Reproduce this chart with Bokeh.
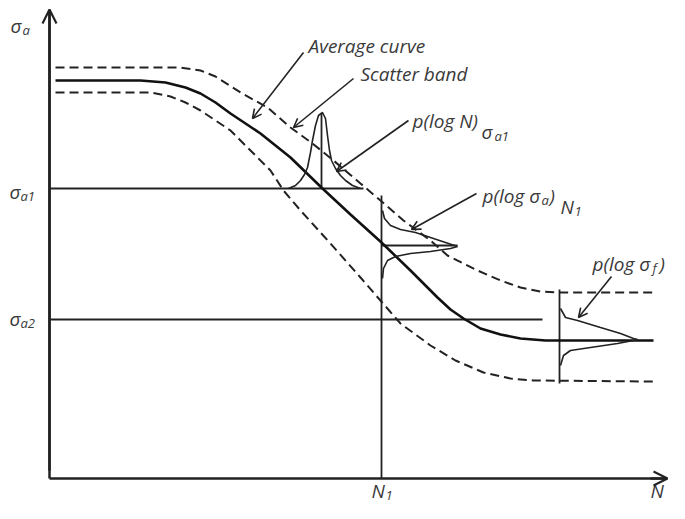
from bokeh.plotting import figure
from bokeh.models import Range1d, Arrow, OpenHead, ColumnDataSource
from bokeh.core.properties import value
from bokeh.embed import file_html
from bokeh.resources import INLINE

# ---- data (schematic coordinates) ----
avg_x = [55, 140, 165, 185, 200, 215, 230, 260, 290, 322, 350, 381, 410, 437, 450, 463, 480, 500, 520, 545, 653]
avg_y = [80, 80, 82, 87, 93, 102, 113, 133, 157, 188, 214, 242, 270, 297, 309, 318, 328, 334, 338, 340, 340]

up_x = [55, 180, 200, 215, 240, 267, 290, 312, 333, 360, 380, 403, 430, 447, 477, 500, 520, 540, 560, 652]
up_y = [67, 67, 70, 76, 92, 107, 127, 143, 160, 183, 200, 220, 240, 255, 270, 280, 287, 291, 292, 292]

lo_x = [55, 150, 170, 185, 200, 230, 250, 270, 283, 300, 330, 360, 373, 400, 430, 455, 483, 510, 533, 653]
lo_y = [92, 92, 96, 102, 110, 130, 150, 170, 190, 210, 243, 277, 292, 323, 345, 360, 372, 378, 380, 381]

pN_x = [288, 295, 300, 304, 307, 310, 312, 315, 318, 322, 325, 327, 329, 331, 335, 340, 345, 352, 360]
pN_y = [188, 185, 180, 174, 167, 152, 140, 125, 115, 112, 118, 135, 150, 160, 168, 175, 180, 185, 188]

pSa_up_x = [382, 384, 390, 400, 415, 430, 445, 457]
pSa_up_y = [210, 218, 225, 229, 232, 237, 242, 246]
pSa_lo_x = [382, 383, 387, 395, 410, 430, 450, 457]
pSa_lo_y = [278, 268, 260, 256, 253, 251, 248, 246]

pSf_up_x = [560, 565, 577, 600, 620, 633, 637]
pSf_up_y = [308, 317, 320, 327, 333, 338, 339]
pSf_lo_x = [560, 563, 570, 590, 617, 633, 637]
pSf_lo_y = [365, 355, 350, 347, 343, 340, 339]

# reference lines: (x0, y0, x1, y1)
thin_lines = [
    (49, 188, 363, 188),   # sigma_a1 level
    (49, 319, 542, 319),   # sigma_a2 level
    (381, 195, 381, 478),  # N1
    (321, 113, 321, 188),  # p(log N) axis
    (381, 245, 457, 245),  # p(log sigma_a) axis
    (559, 289, 559, 383),  # p(log sigma_f) axis
]

# leader arrows: (tail x, tail y, head x, head y)
leaders = [
    (303, 52, 252, 118),
    (353, 78, 293, 127),
    (408, 120, 336, 171),
    (476, 193, 411, 229),
    (611, 276, 578, 317),
]

# texts: (x, y, text)
big_texts = [
    (308, 45, "Average curve"),
    (360, 73, "Scatter band"),
    (412, 120, "p(log N)"),
    (482, 195, "p(log σ"),
    (549, 195, ")"),
    (592, 263, "p(log σ"),
    (659, 263, ")"),
    (481, 131, "σ"),
    (560, 206, "N"),
    (10, 25, "σ"),
    (9, 191, "σ"),
    (9, 318, "σ"),
    (371, 490, "N"),
    (650, 490, "N"),
]
small_texts = [
    (494, 135, "a1"),
    (541, 199, "a"),
    (574, 211, "1"),
    (652, 267, "f"),
    (22, 29, "a"),
    (20, 195, "a1"),
    (20, 322, "a2"),
    (385, 495, "1"),
]

AX = "#222222"
TXT = "#3a3a3a"

p = figure(width=669, height=503, output_backend="svg", toolbar_location=None,
           x_range=Range1d(0, 669), y_range=Range1d(503, 0), min_border=0)
p.axis.visible = False
p.grid.visible = False
p.outline_line_color = None
p.background_fill_color = "white"

# axes
p.line([49, 49], [478, 12], line_color=AX, line_width=2.5)
p.line([49, 666], [478, 478], line_color=AX, line_width=2.5)
p.add_layout(Arrow(end=OpenHead(size=14, line_width=2.2, line_color=AX), x_start=49, y_start=470,
                   x_end=49, y_end=9, line_color=AX, line_width=2.5))
p.add_layout(Arrow(end=OpenHead(size=14, line_width=2.2, line_color=AX), x_start=650, y_start=478,
                   x_end=667, y_end=478, line_color=AX, line_width=2.5))

# reference lines
for x0, y0, x1, y1 in thin_lines:
    p.line([x0, x1], [y0, y1], line_color=AX, line_width=1.8)

# curves
p.line(up_x, up_y, line_color=AX, line_width=2, line_dash="9 5")
p.line(lo_x, lo_y, line_color=AX, line_width=2, line_dash="9 5")
p.line(avg_x, avg_y, line_color="#111111", line_width=2.6)

# distributions
p.line(pN_x, pN_y, line_color=AX, line_width=1.6)
p.line(pSa_up_x, pSa_up_y, line_color=AX, line_width=1.6)
p.line(pSa_lo_x, pSa_lo_y, line_color=AX, line_width=1.6)
p.line(pSf_up_x, pSf_up_y, line_color=AX, line_width=1.6)
p.line(pSf_lo_x, pSf_lo_y, line_color=AX, line_width=1.6)

# leaders
for x0, y0, x1, y1 in leaders:
    p.add_layout(Arrow(end=OpenHead(size=9, line_width=1.6, line_color=AX),
                       x_start=x0, y_start=y0, x_end=x1, y_end=y1,
                       line_color=AX, line_width=1.6))

big = ColumnDataSource(dict(x=[t[0] for t in big_texts], y=[t[1] for t in big_texts],
                            t=[t[2] for t in big_texts]))
small = ColumnDataSource(dict(x=[t[0] for t in small_texts], y=[t[1] for t in small_texts],
                              t=[t[2] for t in small_texts]))
p.text(x="x", y="y", text="t", source=big, text_font=value("Open Sans"), text_font_style="italic",
       text_font_size="19px", text_color=TXT, text_baseline="middle", text_align="left")
p.text(x="x", y="y", text="t", source=small, text_font=value("Open Sans"), text_font_style="italic",
       text_font_size="13px", text_color=TXT, text_baseline="middle", text_align="left")

open("out.html", "w").write(file_html(p, INLINE))
